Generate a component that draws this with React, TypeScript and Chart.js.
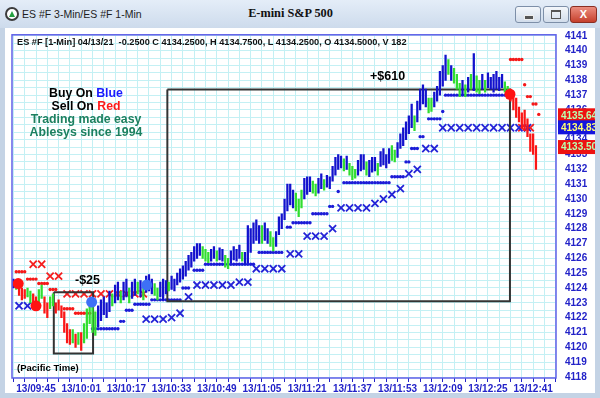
import React, { useEffect, useRef } from 'react';
import { Chart, registerables } from 'chart.js';

Chart.register(...registerables);

// ---------------- DATA ----------------
// 1-minute bars, first bar at minute-of-day 577 (09:37)
const FIRST_MINUTE = 577;
// b = blue (long), g = green, r = red (short)
const barColorCodes =
  'bgrrrggrrg' + 'grrggrrrrr' + 'rgrgrggggg' + 'bbbbbgbbgb' + 'bgbbgbgbbb' +
  'ggbbbgbbbb' + 'bbbbbbbggg' + 'bbgbbggbbb' + 'bgbbbbbbgb' + 'bggbbbbbbb' +
  'gggbbbggbb' + 'gbbbbbbgbg' + 'ggbbbgbbbg' + 'bbbbggbbbb' + 'bbgbbbbggb' +
  'bbbbgbgggb' + 'gbgbggbgbb' + 'bbbbggrrrr' + 'rrrrrr';

const barLows = [
  4124.0, 4123.9, 4123.5, 4123.2, 4123.3, 4123.4, 4123.0, 4122.8, 4122.7, 4123.0,
  4123.3, 4122.3, 4122.0, 4122.6, 4122.8, 4122.3, 4122.5, 4122.0, 4121.0, 4120.3,
  4120.2, 4120.3, 4120.0, 4120.2, 4119.8, 4120.3, 4120.6, 4121.6, 4121.0, 4120.8,
  4121.4, 4121.8, 4122.2, 4122.0, 4122.4, 4122.8, 4123.0, 4123.2, 4123.0, 4123.2,
  4123.4, 4123.0, 4123.3, 4123.5, 4123.6, 4123.4, 4123.2, 4123.7, 4123.8, 4123.6,
  4123.5, 4123.2, 4123.4, 4123.2, 4123.6, 4123.8, 4123.9, 4123.8, 4124.2, 4124.4,
  4124.6, 4124.8, 4125.2, 4125.4, 4125.8, 4126.0, 4126.2, 4126.0, 4125.8, 4125.7,
  4125.8, 4126.0, 4125.8, 4125.9, 4125.8, 4125.4, 4125.3, 4125.7, 4125.9, 4125.8,
  4126.0, 4125.8, 4125.6, 4125.7, 4126.4, 4127.0, 4127.2, 4127.0, 4127.0, 4127.2,
  4127.0, 4126.8, 4126.5, 4126.8, 4127.6, 4128.0, 4128.6, 4129.2, 4129.6, 4129.4,
  4129.2, 4128.8, 4129.4, 4130.0, 4130.3, 4130.5, 4130.4, 4130.2, 4130.4, 4130.7,
  4130.6, 4130.8, 4130.7, 4131.2, 4131.6, 4132.0, 4132.1, 4131.9, 4132.0, 4131.6,
  4131.3, 4131.4, 4131.6, 4131.9, 4132.0, 4131.6, 4131.5, 4131.8, 4131.9, 4131.6,
  4132.2, 4132.3, 4132.1, 4132.4, 4132.6, 4132.5, 4132.8, 4133.4, 4133.6, 4134.0,
  4134.4, 4134.8, 4134.6, 4135.2, 4136.0, 4136.4, 4136.2, 4135.8, 4135.9, 4136.2,
  4136.6, 4137.0, 4137.6, 4138.0, 4138.4, 4138.0, 4137.8, 4137.4, 4136.9, 4137.0,
  4136.9, 4137.2, 4137.4, 4137.3, 4137.2, 4137.1, 4137.4, 4137.2, 4137.5, 4137.4,
  4137.2, 4137.4, 4137.3, 4137.5, 4137.2, 4136.8, 4136.6, 4136.0, 4135.5, 4135.2,
  4134.8, 4134.6, 4134.2, 4133.2, 4133.0, 4132.0,
];

const barHighs = [
  4124.6, 4124.5, 4124.4, 4124.0, 4123.9, 4124.0, 4123.8, 4123.6, 4123.4, 4123.9,
  4124.2, 4123.4, 4123.0, 4123.4, 4123.6, 4123.0, 4123.2, 4122.8, 4122.4, 4121.6,
  4121.2, 4121.2, 4120.9, 4121.0, 4121.0, 4121.6, 4122.6, 4123.2, 4123.0, 4122.4,
  4122.8, 4123.2, 4123.4, 4123.0, 4123.8, 4123.6, 4124.2, 4124.4, 4123.8, 4124.4,
  4124.6, 4124.0, 4124.4, 4124.6, 4124.4, 4124.5, 4124.0, 4124.8, 4124.9, 4124.6,
  4124.3, 4124.0, 4124.4, 4124.6, 4124.5, 4124.4, 4124.8, 4124.6, 4125.0, 4125.3,
  4125.5, 4125.8, 4126.2, 4126.4, 4126.8, 4127.0, 4127.0, 4126.8, 4126.6, 4126.4,
  4126.6, 4126.8, 4126.5, 4126.7, 4126.6, 4126.2, 4126.0, 4126.5, 4126.8, 4126.6,
  4126.9, 4126.4, 4126.4, 4128.2, 4128.0, 4128.4, 4128.6, 4128.2, 4128.2, 4128.4,
  4128.0, 4127.8, 4127.4, 4127.8, 4128.8, 4129.0, 4130.0, 4131.0, 4131.0, 4130.6,
  4130.4, 4130.0, 4130.6, 4131.4, 4131.5, 4131.5, 4131.2, 4131.0, 4131.4, 4131.7,
  4131.3, 4131.6, 4131.5, 4132.2, 4132.8, 4133.0, 4132.9, 4132.7, 4132.9, 4132.4,
  4132.2, 4132.0, 4132.6, 4133.0, 4133.0, 4132.5, 4132.6, 4132.8, 4132.8, 4132.4,
  4133.2, 4133.4, 4133.0, 4133.4, 4133.6, 4133.3, 4133.8, 4134.4, 4134.8, 4135.2,
  4135.6, 4136.4, 4135.6, 4136.6, 4137.4, 4137.7, 4137.4, 4136.8, 4136.8, 4137.2,
  4137.6, 4138.6, 4139.0, 4139.7, 4139.4, 4139.0, 4138.8, 4138.4, 4137.8, 4138.0,
  4137.7, 4138.2, 4138.4, 4139.8, 4138.3, 4138.0, 4138.4, 4138.0, 4138.5, 4138.2,
  4138.4, 4138.6, 4138.2, 4138.4, 4137.9, 4137.6, 4137.4, 4137.2, 4136.8, 4136.2,
  4135.8, 4136.0, 4135.4, 4134.4, 4134.4, 4133.6,
];

// trailing stop dots: [fromMinute, toMinute, price]
const blueStopRuns: [number, number, number][] = [
  [605, 614, 4121.25], [615, 616, 4121.75], [617, 619, 4122.5], [620, 625, 4122.9],
  [626, 636, 4123.2], [637, 639, 4124.0], [641, 644, 4125.2], [645, 662, 4125.6],
  [664, 672, 4126.4], [674, 675, 4128.1], [676, 682, 4128.4], [683, 688, 4129.0],
  [689, 690, 4129.5], [692, 692, 4130.5], [694, 710, 4131.1], [711, 715, 4131.5],
  [716, 717, 4132.5], [718, 720, 4133.4], [721, 722, 4134.2], [724, 728, 4135.4],
  [729, 729, 4135.9], [730, 752, 4137.0],
];
const redStopRuns: [number, number, number][] = [
  [578, 581, 4125.1], [582, 585, 4124.6], [586, 589, 4124.3], [590, 592, 4123.9],
  [595, 598, 4122.6], [599, 604, 4122.3], [753, 757, 4139.4], [758, 758, 4137.7],
  [759, 760, 4136.9], [761, 762, 4136.4], [763, 763, 4135.7],
];

// 3-minute stop crosses: [minute, price]
const blueCrossStops: [number, number][] = [
  [579, 4122.8], [582, 4122.8], [624, 4121.9], [627, 4121.9], [630, 4121.9], [633, 4122.0],
  [636, 4122.3], [639, 4123.4], [642, 4124.2], [645, 4124.2], [648, 4124.2], [651, 4124.2],
  [654, 4124.2], [657, 4124.4], [660, 4124.4], [663, 4125.3], [666, 4125.3], [669, 4125.3],
  [672, 4125.3], [675, 4126.3], [678, 4126.3], [681, 4127.5], [684, 4127.5], [687, 4127.5],
  [690, 4128.0], [693, 4129.4], [696, 4129.4], [699, 4129.4], [702, 4129.4], [705, 4129.7],
  [708, 4130.0], [711, 4130.3], [714, 4130.7], [717, 4131.7], [720, 4132.0], [723, 4133.4],
  [726, 4133.4], [729, 4134.8], [732, 4134.8], [735, 4134.8], [738, 4134.8], [741, 4134.8],
  [744, 4134.8], [747, 4134.8], [750, 4134.8], [753, 4134.8], [756, 4134.8], [759, 4134.8],
];
const redCrossStops: [number, number][] = [
  [584, 4125.6], [587, 4125.6], [590, 4124.8], [593, 4124.8], [596, 4123.6], [599, 4123.6],
  [602, 4123.6], [605, 4123.6], [608, 4123.6], [611, 4123.6], [614, 4123.6], [617, 4123.6],
  [620, 4123.6], [623, 4123.6], [757, 4134.8], [760, 4134.8],
];

// entry signal dots
const sellSignals: [number, number][] = [[578.7, 4124.3], [585, 4122.8], [752.8, 4137.06]];
const buySignals: [number, number][] = [[604.7, 4123.05], [624.2, 4124.2]];

// trade boxes
const tradeBoxes = [
  { from: 591.3, to: 605.2, top: 4123.72, bottom: 4119.58 },
  { from: 631.5, to: 752.8, top: 4137.38, bottom: 4123.1 },
];

// price tags on the right axis
const priceTags = [
  { value: 4135.64, label: '4135.64', bg: '#ee1111', fg: '#b8ffb0' },
  { value: 4134.83, label: '4134.83', bg: '#1414dd', fg: '#ffff70' },
  { value: 4133.5, label: '4133.50', bg: '#ee1111', fg: '#b8ffb0' },
];

const yTickValues = [
  4118, 4119, 4120, 4121, 4122, 4123, 4124, 4125, 4126, 4127, 4128, 4129,
  4130, 4131, 4132, 4133, 4134, 4135, 4136, 4137, 4138, 4139, 4140, 4141,
];
const xTickMinutes = [585, 601, 617, 633, 649, 665, 681, 697, 713, 729, 745, 761];
const xTickLabels = [
  '13/09:45', '13/10:01', '13/10:17', '13/10:33', '13/10:49', '13/11:05',
  '13/11:21', '13/11:37', '13/11:53', '13/12:09', '13/12:25', '13/12:41',
];

// ---------------- STYLE ----------------
const SANS = '"Liberation Sans", Arial, Helvetica, sans-serif';
const SERIF = '"Liberation Serif", "Times New Roman", serif';
const GRID = 'rgb(196,240,244)';
const AXIS_BLUE = 'rgb(34,34,200)';
const FRAME_BLUE = 'rgb(96,96,232)';
const BAR_COLORS: Record<string, string> = {
  b: 'rgb(18,18,205)',
  g: 'rgb(48,222,48)',
  r: 'rgb(250,22,22)',
};
const X_MIN = 576.5;
const X_MAX = 769.1;
const Y_MIN = 4117.933;
const Y_MAX = 4141.067;

const expandRuns = (runs: [number, number, number][]) =>
  runs.flatMap(([a, b, v]) => {
    const pts: { x: number; y: number }[] = [];
    for (let m = a; m <= b; m++) pts.push({ x: m, y: v });
    return pts;
  });

const framePlugin = {
  id: 'frameAndTags',
  afterDraw(chart: any) {
    const { ctx, chartArea, scales } = chart;
    const y = scales.y;
    ctx.save();
    ctx.strokeStyle = FRAME_BLUE;
    ctx.lineWidth = 1.5;
    ctx.strokeRect(chartArea.left, chartArea.top, chartArea.right - chartArea.left, chartArea.bottom - chartArea.top);
    priceTags.forEach((t) => {
      const py = y.getPixelForValue(t.value);
      ctx.fillStyle = t.bg;
      ctx.fillRect(chartArea.right + 2, py - 7, chart.width - chartArea.right - 2, 14);
      ctx.fillStyle = t.fg;
      ctx.font = `bold 10px ${SANS}`;
      ctx.textAlign = 'left';
      ctx.textBaseline = 'middle';
      ctx.fillText(t.label, chartArea.right + 5, py + 0.5);
    });
    ctx.restore();
  },
};

function ChartCanvas() {
  const ref = useRef<HTMLCanvasElement | null>(null);
  useEffect(() => {
    if (!ref.current) return;
    const bars = barLows.map((lo, i) => ({ x: FIRST_MINUTE + i, y: [lo, barHighs[i]] }));
    const barCols = barLows.map((_, i) => BAR_COLORS[barColorCodes[i]]);
    const datasets: any[] = [
      {
        type: 'scatter', data: sellSignals.map(([x, y]) => ({ x, y })), order: 0,
        pointStyle: 'circle', pointRadius: 5.5, backgroundColor: 'rgb(255,18,18)', borderWidth: 0,
      },
      {
        type: 'scatter', data: buySignals.map(([x, y]) => ({ x, y })), order: 0,
        pointStyle: 'circle', pointRadius: 5.5, backgroundColor: 'rgb(62,112,246)', borderWidth: 0,
      },
      {
        type: 'bar', data: bars, order: 1, backgroundColor: barCols, borderWidth: 0,
        barThickness: 1.6, grouped: false,
      },
      ...tradeBoxes.map((t) => ({
        type: 'line', order: 2, showLine: true, fill: false, tension: 0,
        borderColor: '#333333', borderWidth: 2, borderDash: [2000, 0], pointRadius: 0,
        data: [
          { x: t.from, y: t.top }, { x: t.to, y: t.top }, { x: t.to, y: t.bottom },
          { x: t.from, y: t.bottom }, { x: t.from, y: t.top },
        ],
      })),
      {
        type: 'scatter', data: expandRuns(blueStopRuns), order: 3,
        pointStyle: 'circle', pointRadius: 1.7, backgroundColor: 'rgb(28,28,215)', borderWidth: 0,
      },
      {
        type: 'scatter', data: expandRuns(redStopRuns), order: 3,
        pointStyle: 'circle', pointRadius: 1.7, backgroundColor: 'rgb(245,25,25)', borderWidth: 0,
      },
      {
        type: 'scatter', data: blueCrossStops.map(([x, y]) => ({ x, y })), order: 4,
        pointStyle: 'crossRot', pointRadius: 5, borderColor: 'rgb(36,36,215)', borderWidth: 1.8,
      },
      {
        type: 'scatter', data: redCrossStops.map(([x, y]) => ({ x, y })), order: 5,
        pointStyle: 'crossRot', pointRadius: 5, borderColor: 'rgb(245,30,30)', borderWidth: 1.8,
      },
    ];

    const chart = new Chart(ref.current, {
      type: 'scatter',
      data: { datasets },
      options: {
        animation: false,
        responsive: false,
        events: [],
        layout: { padding: { left: 7, top: 5, right: 0, bottom: 0 } },
        plugins: { legend: { display: false }, tooltip: { enabled: false } },
        scales: {
          x: {
            type: 'linear',
            min: X_MIN,
            max: X_MAX,
            offset: false,
            afterBuildTicks: (scale: any) => {
              const t: { value: number }[] = [];
              for (let m = 577; m <= X_MAX; m += 4) t.push({ value: m });
              scale.ticks = t;
            },
            afterFit: (scale: any) => {
              scale.height = 15;
              scale.paddingLeft = 0;
              scale.paddingRight = 0;
            },
            grid: { color: GRID, tickColor: AXIS_BLUE, tickLength: 4, drawTicks: true, lineWidth: 1, offset: false },
            border: { display: false },
            ticks: {
              autoSkip: false,
              maxRotation: 0,
              minRotation: 0,
              padding: 1,
              color: AXIS_BLUE,
              font: { family: SANS, size: 10, weight: 'bold' },
              callback: (v: any) => {
                const i = xTickMinutes.indexOf(Number(v));
                return i >= 0 ? xTickLabels[i] : '';
              },
            },
          },
          y: {
            type: 'linear',
            position: 'right',
            min: Y_MIN,
            max: Y_MAX,
            afterBuildTicks: (scale: any) => {
              scale.ticks = yTickValues
                .flatMap((v) => [{ value: v }, { value: v + 0.5 }])
                .filter((t) => t.value <= Y_MAX);
            },
            afterFit: (scale: any) => {
              scale.width = 39;
              scale.paddingTop = 0;
              scale.paddingBottom = 0;
            },
            grid: { color: GRID, drawTicks: false, lineWidth: 1 },
            border: { display: false },
            ticks: {
              autoSkip: false,
              padding: 9,
              color: AXIS_BLUE,
              font: { family: SANS, size: 10, weight: 'bold' },
              callback: (v: any) => (Number.isInteger(Number(v)) ? String(v) : ''),
            },
          },
        },
      } as any,
      plugins: [framePlugin],
    });
    return () => chart.destroy();
  }, []);
  return <canvas ref={ref} width={590} height={365} style={{ display: 'block', width: 590, height: 365 }} />;
}

const abs = (left: number, top: number, extra: React.CSSProperties = {}): React.CSSProperties => ({
  position: 'absolute', left, top, whiteSpace: 'pre', ...extra,
});

export default function App() {
  return (
    <div style={{ position: 'fixed', left: 0, top: 0, width: 600, height: 398, overflow: 'hidden', background: '#c4d3e5', fontFamily: SANS }}>
      {/* title bar */}
      <div style={abs(0, 0, { width: 600, height: 28, background: 'linear-gradient(#e4edf8, #cddbec)' })} />
      <div style={abs(5, 7, { width: 10, height: 10, borderRadius: '50%', border: '2px solid #3c3c3c', background: '#ffffff' })}>
        <div style={{ position: 'absolute', left: 2, top: 2, width: 0, height: 0, borderLeft: '3px solid transparent', borderRight: '3px solid transparent', borderBottom: '6px solid #24a040' }} />
      </div>
      <div style={abs(22, 8, { fontSize: 10.5, lineHeight: '13px', color: '#1e1e1e' })}>ES #F 3-Min/ES #F 1-Min</div>
      <div style={abs(218, 5, { width: 145, textAlign: 'center', fontFamily: SERIF, fontWeight: 'bold', fontSize: 12.3, lineHeight: '17px', color: '#111' })}>E-mini S&amp;P 500</div>
      {/* window buttons */}
      <div style={abs(515, 6, { width: 24, height: 15, border: '1px solid #7d8fa8', borderRadius: 3, background: 'linear-gradient(#f4f7fb, #d2ddeb)' })}>
        <div style={{ position: 'absolute', left: 8, top: 8, width: 8, height: 3, background: '#555', border: '1px solid #eee' }} />
      </div>
      <div style={abs(543, 6, { width: 24, height: 15, border: '1px solid #7d8fa8', borderRadius: 3, background: 'linear-gradient(#f4f7fb, #d2ddeb)' })}>
        <div style={{ position: 'absolute', left: 7, top: 3, width: 8, height: 6, border: '1.5px solid #555', borderTopWidth: 2.5 }} />
      </div>
      <div style={abs(570, 6, { width: 25, height: 15, border: '1px solid #8a2e22', borderRadius: 3, background: 'linear-gradient(#eb8d7f, #c6402c)', color: '#fff', fontWeight: 'bold', fontSize: 11, lineHeight: '15px', textAlign: 'center' })}>X</div>

      {/* client area */}
      <div style={abs(5, 28, { width: 590, height: 365, background: '#ffffff' })}>
        <ChartCanvas />
      </div>

      {/* annotations */}
      <div style={abs(17, 36, { fontSize: 9.2, fontWeight: 'bold', lineHeight: '12px', color: '#111' })}>
        ES #F [1-Min] 04/13/21  -0.2500 C 4134.2500, H 4134.7500, L 4134.2500, O 4134.5000, V 182
      </div>
      <div style={abs(16, 86.5, { width: 140, textAlign: 'center', fontSize: 12.3, fontWeight: 'bold', lineHeight: '13.3px' })}>
        <div style={{ color: '#000' }}>Buy On <span style={{ color: '#1a1aff' }}>Blue</span></div>
        <div style={{ color: '#000' }}>Sell On <span style={{ color: '#ff1a1a' }}>Red</span></div>
        <div style={{ color: '#1c8060' }}>Trading made easy</div>
        <div style={{ color: '#1c8060' }}>Ablesys since 1994</div>
      </div>
      <div style={abs(75, 272, { fontSize: 12.5, fontWeight: 'bold', lineHeight: '16px', color: '#000' })}>-$25</div>
      <div style={abs(370, 68, { fontSize: 12.5, fontWeight: 'bold', lineHeight: '16px', color: '#000' })}>+$610</div>
      <div style={abs(17, 362, { fontSize: 9.5, fontWeight: 'bold', lineHeight: '12px', color: '#000' })}>(Pacific Time)</div>
    </div>
  );
}
